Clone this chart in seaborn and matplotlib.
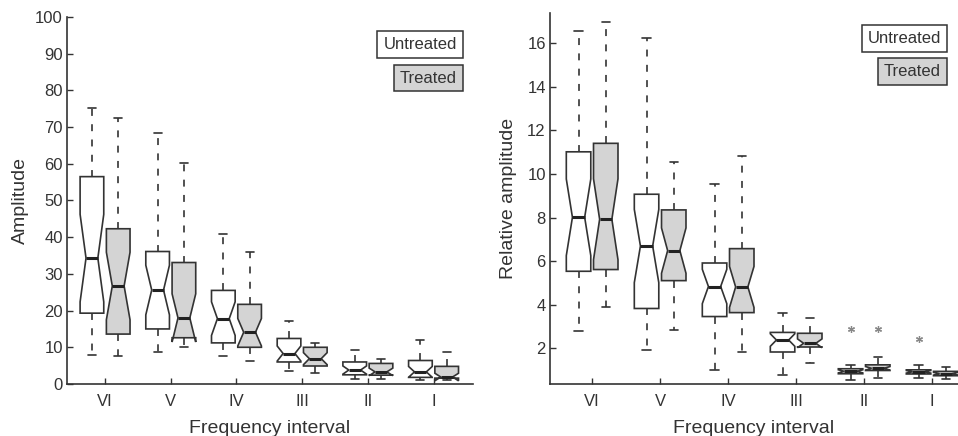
import matplotlib
matplotlib.use("Agg")
import matplotlib.pyplot as plt
import pandas as pd
import seaborn as sns

intervals = ["VI", "V", "IV", "III", "II", "I"]
groups = ["Untreated", "Treated"]

# left panel: amplitude (whisker low, q1, median, q3, whisker high)
amp_untreated_lo = [7.8, 8.6, 7.5, 3.6, 1.4, 1.1]
amp_untreated_q1 = [19.3, 15.0, 11.2, 6.0, 2.5, 1.8]
amp_untreated_med = [34.3, 25.6, 17.8, 8.3, 3.8, 3.3]
amp_untreated_q3 = [56.5, 36.1, 25.5, 12.4, 6.0, 6.4]
amp_untreated_hi = [75.3, 68.3, 41.0, 17.2, 9.2, 12.1]

amp_treated_lo = [7.5, 10.1, 6.2, 3.0, 1.4, 1.2]
amp_treated_q1 = [13.6, 12.6, 10.0, 4.9, 2.4, 1.6]
amp_treated_med = [26.7, 18.0, 14.1, 6.9, 3.3, 1.9]
amp_treated_q3 = [42.3, 33.1, 21.7, 10.0, 5.6, 4.8]
amp_treated_hi = [72.5, 60.3, 36.1, 11.2, 6.7, 8.6]

# right panel: relative amplitude
rel_untreated_lo = [2.79, 1.91, 1.00, 0.74, 0.53, 0.64]
rel_untreated_q1 = [5.53, 3.82, 3.45, 1.82, 0.82, 0.81]
rel_untreated_med = [8.01, 6.69, 4.83, 2.37, 0.93, 0.91]
rel_untreated_q3 = [11.02, 9.07, 5.91, 2.72, 1.05, 1.00]
rel_untreated_hi = [16.56, 16.23, 9.53, 3.62, 1.23, 1.20]

rel_treated_lo = [3.91, 2.85, 1.83, 1.30, 0.61, 0.58]
rel_treated_q1 = [5.61, 5.10, 3.63, 2.05, 0.97, 0.73]
rel_treated_med = [7.92, 6.48, 4.81, 2.22, 1.07, 0.82]
rel_treated_q3 = [11.41, 8.35, 6.57, 2.68, 1.23, 0.93]
rel_treated_hi = [16.99, 10.56, 10.81, 3.40, 1.60, 1.14]

rel_outlier_interval = ["II", "II", "I"]
rel_outlier_group = ["Untreated", "Treated", "Untreated"]
rel_outlier_value = [2.87, 2.87, 2.41]


def expand(lo, q1, med, q3, hi):
    # 24 samples whose quartiles and extremes equal the summary
    return [lo] + [q1] * 8 + [med] * 6 + [q3] * 8 + [hi]


def build_frame(untreated, treated, outliers=None):
    rows = []
    for name, summary in (("Untreated", untreated), ("Treated", treated)):
        for i, interval in enumerate(intervals):
            vals = expand(*(s[i] for s in summary))
            rows += [(interval, name, v) for v in vals]
    if outliers:
        rows += list(zip(*outliers))
    return pd.DataFrame(rows, columns=["interval", "group", "value"])


amp_df = build_frame(
    (amp_untreated_lo, amp_untreated_q1, amp_untreated_med, amp_untreated_q3, amp_untreated_hi),
    (amp_treated_lo, amp_treated_q1, amp_treated_med, amp_treated_q3, amp_treated_hi),
)
rel_df = build_frame(
    (rel_untreated_lo, rel_untreated_q1, rel_untreated_med, rel_untreated_q3, rel_untreated_hi),
    (rel_treated_lo, rel_treated_q1, rel_treated_med, rel_treated_q3, rel_treated_hi),
    (rel_outlier_interval, rel_outlier_group, rel_outlier_value),
)

sns.set_style("ticks")
plt.rcParams["font.family"] = ["Liberation Sans", "DejaVu Sans"]
plt.rcParams["lines.scale_dashes"] = False
ink = "#333333"

fig = plt.figure(figsize=(9.58, 4.36), dpi=100)
ax1 = fig.add_axes([0.0699, 0.1193, 0.4238, 0.8417])
ax2 = fig.add_axes([0.5741, 0.1193, 0.4259, 0.8509])

palette = {"Untreated": "white", "Treated": "#d4d4d4"}

for ax, df in ((ax1, amp_df), (ax2, rel_df)):
    sns.boxplot(
        data=df, x="interval", y="value", hue="group",
        order=intervals, hue_order=groups, palette=palette, saturation=1,
        width=0.8, gap=0.1, whis=3, notch=True,
        linecolor=ink, linewidth=1.2, capwidths=0.12,
        whiskerprops={"linestyle": (0, (5, 6))},
        medianprops={"linewidth": 2.2, "color": "#222222"},
        flierprops={"marker": (6, 2, 0), "markersize": 5,
                    "markeredgecolor": "#888888", "markeredgewidth": 0.9},
        legend=False, ax=ax,
    )
    sns.despine(ax=ax)
    for side in ("left", "bottom"):
        ax.spines[side].set_color(ink)
        ax.spines[side].set_linewidth(1.2)
    ax.tick_params(direction="in", length=4, width=1, colors=ink, labelsize=12)
    ax.tick_params(axis="x", pad=7)
    ax.tick_params(axis="y", pad=3)
    ax.set_xlabel("Frequency interval", fontsize=14, color=ink, labelpad=8)

ax1.set_xlim(-0.58, 5.6)
ax1.set_ylim(0, 100)
ax1.set_yticks(range(0, 101, 10))
ax1.set_ylabel("Amplitude", fontsize=14, color=ink, labelpad=4.5)

ax2.set_xlim(-0.62, 5.38)
ax2.set_ylim(0.35, 17.4)
ax2.set_yticks(range(2, 17, 2))
ax2.set_ylabel("Relative amplitude", fontsize=14, color=ink, labelpad=7)

# legend boxes
for x, y_top, y_bot in ((0.4767, 0.898, 0.821), (0.982, 0.912, 0.836)):
    fig.text(x, y_top, "Untreated", ha="right", va="center", fontsize=12, color=ink,
             bbox=dict(boxstyle="square,pad=0.35", fc="white", ec=ink, lw=1.1))
    fig.text(x, y_bot, "Treated", ha="right", va="center", fontsize=12, color=ink,
             bbox=dict(boxstyle="square,pad=0.35", fc="#d4d4d4", ec=ink, lw=1.1))

fig.savefig("out.png", dpi=100)
